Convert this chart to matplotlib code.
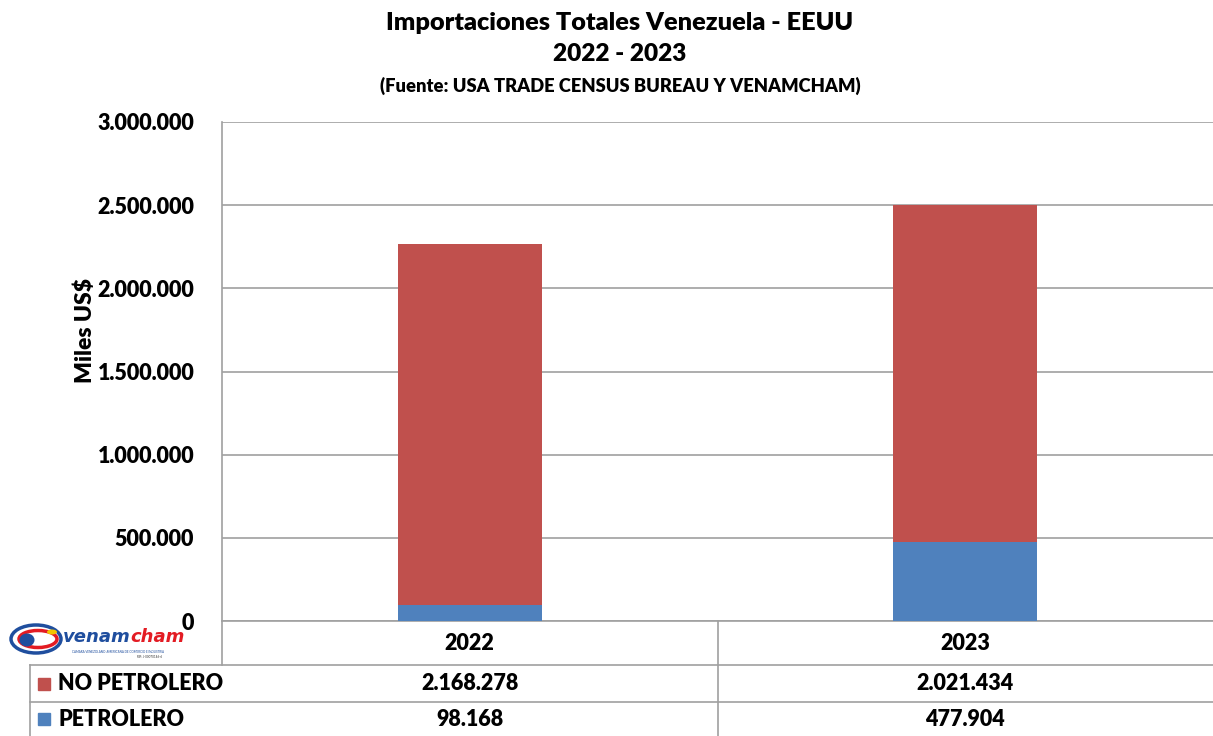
import matplotlib
matplotlib.use('Agg')
import matplotlib.pyplot as plt
from matplotlib.lines import Line2D
from matplotlib.patches import Rectangle, Ellipse
from matplotlib.ticker import FuncFormatter

# datos (miles US$)
YEARS = ['2022', '2023']
SERIES = ['NO PETROLERO', 'PETROLERO']
NO_PETROLERO = [2168278, 2021434]
PETROLERO = [98168, 477904]
Y_TICKS = [0, 500000, 1000000, 1500000, 2000000, 2500000, 3000000]

TITLE = 'Importaciones Totales Venezuela - EEUU'
SUBTITLE = '2022 - 2023'
SOURCE = '(Fuente: USA TRADE CENSUS BUREAU Y VENAMCHAM)'
Y_LABEL = 'Miles US$'

RED = '#C0504D'
BLUE = '#4F81BD'
LINE = '#A0A0A0'
WT = 'heavy'

plt.rcParams['font.family'] = ['Lato', 'DejaVu Sans']
plt.rcParams['font.weight'] = WT
plt.rcParams['axes.labelweight'] = WT

W, H = 1213, 736
fig = plt.figure(figsize=(W / 100, H / 100), dpi=100)


def fx(px):
    return px / W


def fy(py):
    return 1 - py / H


def miles(v, pos=None):
    return f'{int(round(v)):,}'.replace(',', '.')


# grafico de barras apiladas
ax = fig.add_axes([fx(222), fy(621), fx(1213) - fx(222), fy(122) - fy(621)])
x = list(range(len(YEARS)))
ax.bar(x, PETROLERO, width=0.29, color=BLUE, zorder=3)
ax.bar(x, NO_PETROLERO, width=0.29, bottom=PETROLERO, color=RED, zorder=3)
ax.set_xlim(-0.5, len(YEARS) - 0.5)
ax.set_ylim(0, 3000000)
ax.set_yticks(Y_TICKS)
ax.yaxis.set_major_formatter(FuncFormatter(miles))
ax.set_xticks([])
ax.tick_params(axis='y', length=0, pad=20, labelsize=15.5)
for lbl in ax.get_yticklabels():
    lbl.set_fontweight(WT)
ax.yaxis.grid(True, color=LINE, linewidth=1.2, zorder=0)
for s in ['top', 'right']:
    ax.spines[s].set_visible(False)
for s in ['left', 'bottom']:
    ax.spines[s].set_color(LINE)
    ax.spines[s].set_linewidth(1.2)
ax.set_ylabel(Y_LABEL, fontsize=16.5, fontweight=WT)
ax.yaxis.set_label_coords(-0.127, 0.583)

# titulos
fig.text(fx(620), fy(23), TITLE, ha='center', va='center', fontsize=18.2, fontweight=WT)
fig.text(fx(620), fy(54), SUBTITLE, ha='center', va='center', fontsize=17.6, fontweight=WT)
fig.text(fx(620), fy(86), SOURCE, ha='center', va='center', fontsize=13.2, fontweight=WT)

# tabla de datos debajo del grafico (coordenadas en pixeles)
tab = fig.add_axes([0, 0, 1, 1])
tab.set_xlim(0, W)
tab.set_ylim(H, 0)
tab.axis('off')

ax_left, ax_right = 222, 1213
col_w = (ax_right - ax_left) / len(YEARS)
row_y = [643, 684, 719]

segs = [
    ((ax_left, ax_left), (621, 665)),
    ((30, 30), (665, 736)),
    ((30, W), (665, 665)),
    ((30, W), (702, 702)),
]
for i in range(1, len(YEARS)):
    xv = ax_left + i * col_w
    segs.append(((xv, xv), (621, 736)))
for xs, ys in segs:
    tab.add_line(Line2D(xs, ys, color=LINE, linewidth=1.2))

for i, yr in enumerate(YEARS):
    xc = ax_left + (i + 0.5) * col_w
    tab.text(xc, row_y[0], yr, ha='center', va='center', fontsize=15.5, fontweight=WT)
    tab.text(xc, row_y[1], miles(NO_PETROLERO[i]), ha='center', va='center',
             fontsize=15.5, fontweight=WT)
    tab.text(xc, row_y[2], miles(PETROLERO[i]), ha='center', va='center',
             fontsize=15.5, fontweight=WT)

for name, col, yy in zip(SERIES, [RED, BLUE], row_y[1:]):
    tab.add_patch(Rectangle((38, yy - 6), 12, 12, color=col))
    tab.text(58, yy, name, ha='left', va='center', fontsize=15.5, fontweight=WT)

# logo venamcham (aproximado)
tab.add_patch(Ellipse((36, 639), 50, 28, facecolor='white', edgecolor='#1F4E9E', linewidth=2.5))
tab.add_patch(Ellipse((38, 639), 38, 17, facecolor='none', edgecolor='#E31B23', linewidth=2.5))
tab.add_patch(Ellipse((27, 640), 15, 13, facecolor='#1F4E9E', edgecolor='none'))
tab.add_patch(Ellipse((52, 632), 10, 5, facecolor='#F2C500', edgecolor='none'))
t1 = tab.text(63, 637, 'venam', ha='left', va='center', fontsize=13, color='#1F4E9E',
              fontstyle='italic', fontweight='bold', family=['DejaVu Sans'])
tab.annotate('cham', xy=(1, 0.5), xycoords=t1, ha='left', va='center', fontsize=13,
             color='#E31B23', fontstyle='italic', fontweight='bold', family=['DejaVu Sans'])
tab.text(118, 652, 'CAMARA VENEZOLANO-AMERICANA DE COMERCIO E INDUSTRIA', ha='center',
         va='center', fontsize=2.2, color='#1F4E9E', fontweight='normal')
tab.text(150, 657, 'RIF: J-00070146-6', ha='center', va='center', fontsize=2.2,
         color='#333333', fontweight='normal')

fig.savefig('out.png', dpi=100)
